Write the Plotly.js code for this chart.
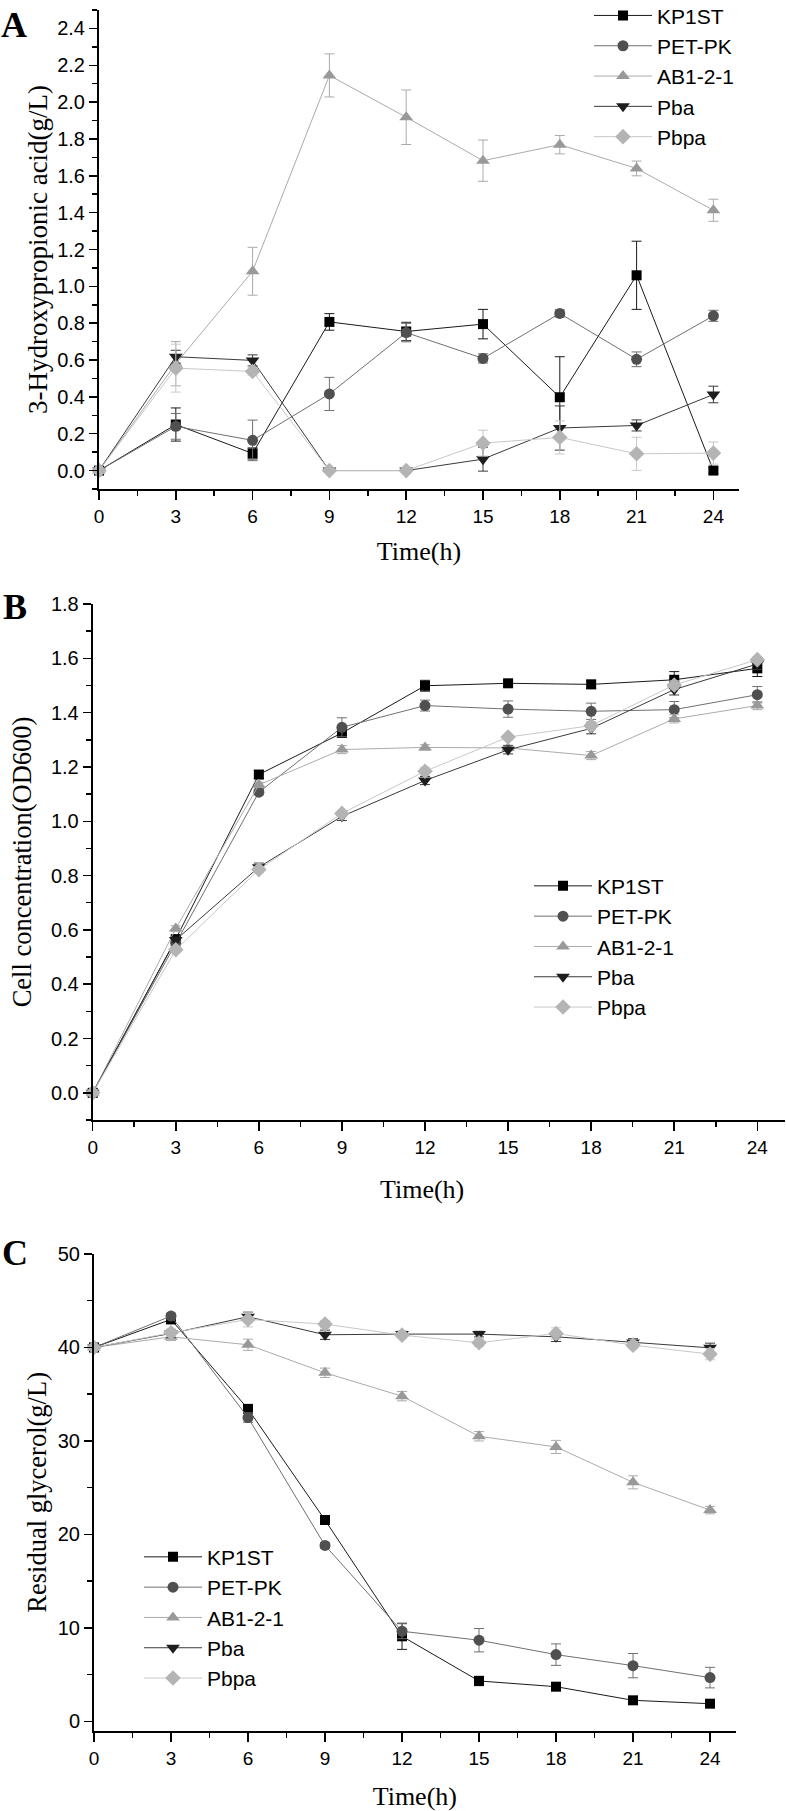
<!DOCTYPE html>
<html>
<head>
<meta charset="utf-8">
<script src="https://cdn.plot.ly/plotly-3.0.1.min.js"></script>
<style>
  html, body { margin: 0; padding: 0; background: #fff; }
  #chart { width: 786px; height: 1811px; }
</style>
</head>
<body>
<div id="chart"></div>
<script>
// ---------------- data ----------------
const TIME = [0, 3, 6, 9, 12, 15, 18, 21, 24];
const SERIES = ['KP1ST', 'PET-PK', 'AB1-2-1', 'Pba', 'Pbpa'];
const X_TICKS = [0, 3, 6, 9, 12, 15, 18, 21, 24];

// Panel A: 3-Hydroxypropionic acid (g/L)
const HPA_KP1ST     = [0, 0.25, 0.093, 0.807, 0.755, 0.795, 0.398, 1.06, 0.0];
const HPA_KP1ST_ERR = [0, 0.09, 0.03, 0.045, 0.05, 0.08, 0.22, 0.185, 0.015];
const HPA_PETPK     = [0, 0.24, 0.164, 0.416, 0.749, 0.609, 0.853, 0.604, 0.84];
const HPA_PETPK_ERR = [0, 0.07, 0.11, 0.09, 0.05, 0.025, 0.02, 0.04, 0.03];
const HPA_AB        = [0, 0.58, 1.082, 2.145, 1.918, 1.682, 1.769, 1.64, 1.413];
const HPA_AB_ERR    = [0, 0.12, 0.13, 0.117, 0.148, 0.112, 0.05, 0.04, 0.06];
const HPA_PBA       = [0, 0.618, 0.598, 0, 0, 0.062, 0.231, 0.245, 0.413];
const HPA_PBA_ERR   = [0, 0.035, 0.03, 0, 0, 0.065, 0.12, 0.03, 0.045];
const HPA_PBPA      = [0, 0.556, 0.538, 0, 0, 0.149, 0.18, 0.091, 0.095];
const HPA_PBPA_ERR  = [0, 0.13, 0.02, 0, 0, 0.07, 0.09, 0.09, 0.06];

// Panel B: Cell concentration (OD600)
const OD_KP1ST     = [0, 0.566, 1.172, 1.325, 1.499, 1.508, 1.504, 1.521, 1.563];
const OD_KP1ST_ERR = [0.01, 0.01, 0.015, 0.015, 0.02, 0.01, 0.015, 0.03, 0.03];
const OD_PETPK     = [0, 0.55, 1.107, 1.346, 1.426, 1.413, 1.405, 1.411, 1.466];
const OD_PETPK_ERR = [0.01, 0.01, 0.01, 0.035, 0.02, 0.03, 0.03, 0.03, 0.03];
const OD_AB        = [0, 0.605, 1.134, 1.264, 1.272, 1.27, 1.242, 1.377, 1.426];
const OD_AB_ERR    = [0.01, 0.01, 0.01, 0.015, 0.01, 0.01, 0.015, 0.015, 0.015];
const OD_PBA       = [0, 0.563, 0.831, 1.018, 1.15, 1.263, 1.342, 1.485, 1.579];
const OD_PBA_ERR   = [0.01, 0.01, 0.015, 0.015, 0.015, 0.015, 0.02, 0.02, 0.02];
const OD_PBPA      = [0, 0.527, 0.822, 1.029, 1.184, 1.31, 1.352, 1.502, 1.595];
const OD_PBPA_ERR  = [0.01, 0.01, 0.01, 0.01, 0.015, 0.01, 0.015, 0.015, 0.01];

// Panel C: Residual glycerol (g/L)
const GLY_KP1ST     = [40, 43.0, 33.43, 21.54, 9.1, 4.32, 3.71, 2.25, 1.89];
const GLY_KP1ST_ERR = [0.2, 0.3, 0.4, 0.3, 1.4, 0.5, 0.3, 0.3, 0.3];
const GLY_PETPK     = [40, 43.36, 32.5, 18.82, 9.64, 8.68, 7.14, 5.96, 4.68];
const GLY_PETPK_ERR = [0.2, 0.3, 0.5, 0.3, 0.8, 1.25, 1.15, 1.3, 1.1];
const GLY_AB        = [40, 41.14, 40.29, 37.29, 34.79, 30.5, 29.36, 25.57, 22.6];
const GLY_AB_ERR    = [0.2, 0.4, 0.6, 0.5, 0.5, 0.5, 0.7, 0.7, 0.4];
const GLY_PBA       = [40, 41.5, 43.29, 41.36, 41.43, 41.43, 41.14, 40.54, 39.96];
const GLY_PBA_ERR   = [0.2, 0.4, 0.5, 0.5, 0.3, 0.3, 0.5, 0.4, 0.5];
const GLY_PBPA      = [40, 41.57, 43.0, 42.5, 41.32, 40.5, 41.5, 40.25, 39.29];
const GLY_PBPA_ERR  = [0.2, 0.4, 0.8, 0.4, 0.3, 0.4, 0.6, 0.4, 0.6];

// ---------------- styles ----------------
const STYLE = {
  'KP1ST':   {symbol: 'square',        size: 10, mcolor: '#000000', lcolor: '#1a1a1a'},
  'PET-PK':  {symbol: 'circle',        size: 11, mcolor: '#505050', lcolor: '#707070'},
  'AB1-2-1': {symbol: 'triangle-up',   size: 12, mcolor: '#999999', lcolor: '#ababab'},
  'Pba':     {symbol: 'triangle-down', size: 12, mcolor: '#1e1e1e', lcolor: '#3a3a3a'},
  'Pbpa':    {symbol: 'diamond',       size: 12, mcolor: '#b4b4b4', lcolor: '#c8c8c8'}
};

const PANELS = [
  {ax: '',  leg: 'legend',  vals: [HPA_KP1ST, HPA_PETPK, HPA_AB, HPA_PBA, HPA_PBPA],
   errs: [HPA_KP1ST_ERR, HPA_PETPK_ERR, HPA_AB_ERR, HPA_PBA_ERR, HPA_PBPA_ERR]},
  {ax: '2', leg: 'legend2', vals: [OD_KP1ST, OD_PETPK, OD_AB, OD_PBA, OD_PBPA],
   errs: [OD_KP1ST_ERR, OD_PETPK_ERR, OD_AB_ERR, OD_PBA_ERR, OD_PBPA_ERR]},
  {ax: '3', leg: 'legend3', vals: [GLY_KP1ST, GLY_PETPK, GLY_AB, GLY_PBA, GLY_PBPA],
   errs: [GLY_KP1ST_ERR, GLY_PETPK_ERR, GLY_AB_ERR, GLY_PBA_ERR, GLY_PBPA_ERR]}
];

const traces = [];
PANELS.forEach(p => {
  SERIES.forEach((name, i) => {
    const s = STYLE[name];
    traces.push({
      type: 'scatter', mode: 'lines+markers', name: name,
      x: TIME, y: p.vals[i],
      xaxis: 'x' + p.ax, yaxis: 'y' + p.ax, legend: p.leg,
      line: {color: s.lcolor, width: 1},
      marker: {symbol: s.symbol, size: s.size, color: s.mcolor, line: {width: 0}},
      error_y: {type: 'data', array: p.errs[i], visible: true, color: s.lcolor, thickness: 1, width: 5},
      cliponaxis: false
    });
  });
});

const W = 786, H = 1811;
const px = v => v / W;
const py = v => 1 - v / H;

const SANS = 'Liberation Sans, Arial, Helvetica, sans-serif';
const SERIF = 'Liberation Serif, Times New Roman, serif';

function xAxis(left, right, anchor, title, standoff) {
  return {
    domain: [px(left), px(right)], anchor: anchor,
    range: [0, 25], tickvals: X_TICKS, ticktext: X_TICKS.map(String),
    ticks: 'outside', ticklen: 9, tickwidth: 1.5, tickcolor: '#000',
    minor: {dtick: 1.5, tick0: 0, ticks: 'outside', ticklen: 5, tickwidth: 1.5, tickcolor: '#000', showgrid: false},
    showline: true, linewidth: 2, linecolor: '#000', showgrid: false, zeroline: false,
    tickfont: {family: SANS, size: 19, color: '#000'},
    title: {text: title, font: {family: SERIF, size: 26, color: '#000'}, standoff: standoff},
    automargin: false, fixedrange: true
  };
}
function yAxis(top, bottom, anchor, range, dtick, minor, fmt, title, tsize, standoff) {
  return {
    domain: [py(bottom), py(top)], anchor: anchor,
    range: range, dtick: dtick, tick0: 0, tickformat: fmt,
    ticks: 'outside', ticklen: 8, tickwidth: 1.5, tickcolor: '#000',
    minor: {dtick: minor, tick0: 0, ticks: 'outside', ticklen: 5, tickwidth: 1.5, tickcolor: '#000', showgrid: false},
    showline: true, linewidth: 2, linecolor: '#000', showgrid: false, zeroline: false,
    tickfont: {family: SANS, size: 20, color: '#000'},
    title: {text: title, font: {family: SERIF, size: tsize, color: '#000'}, standoff: standoff},
    automargin: false, fixedrange: true
  };
}
function legendAt(lineStart, topY, fsize) {
  return {
    x: px(lineStart - 5), y: py(topY), xanchor: 'left', yanchor: 'top',
    bgcolor: 'rgba(0,0,0,0)', borderwidth: 0,
    font: {family: SANS, size: fsize, color: '#000'},
    tracegroupgap: 0, itemwidth: 58, itemclick: false, itemdoubleclick: false
  };
}

const layout = {
  width: W, height: H,
  margin: {l: 0, r: 0, t: 0, b: 0, autoexpand: false},
  paper_bgcolor: '#fff', plot_bgcolor: '#fff',
  showlegend: true,
  xaxis:  xAxis(99, 739, 'y', 'Time(h)', 16),
  yaxis:  yAxis(10, 489, 'x', [-0.1, 2.5], 0.2, 0.1, '.1f', '3-Hydroxypropionic acid(g/L)', 27, 2),
  xaxis2: xAxis(92.7, 785, 'y2', '', 16),
  yaxis2: yAxis(604, 1120, 'x2', [-0.1, 1.8], 0.2, 0.1, '.1f', 'Cell concentration(OD600)', 26.5, 12),
  xaxis3: xAxis(94, 735.7, 'y3', 'Time(h)', 19),
  yaxis3: yAxis(1254, 1730.7, 'x3', [-1, 50], 10, 5, 'd', 'Residual glycerol(g/L)', 26.5, 3),
  legend:  legendAt(594, -4.7, 21),
  legend2: legendAt(534, 865.7, 21),
  legend3: legendAt(144, 1536.7, 21),
  annotations: [
    {text: '<b>A</b>', x: px(14), y: py(25), xref: 'paper', yref: 'paper', showarrow: false,
     xanchor: 'center', yanchor: 'middle', font: {family: SERIF, size: 36, color: '#000'}},
    {text: '<b>B</b>', x: px(15), y: py(607), xref: 'paper', yref: 'paper', showarrow: false,
     xanchor: 'center', yanchor: 'middle', font: {family: SERIF, size: 36, color: '#000'}},
    {text: '<b>C</b>', x: px(15), y: py(1253), xref: 'paper', yref: 'paper', showarrow: false,
     xanchor: 'center', yanchor: 'middle', font: {family: SERIF, size: 36, color: '#000'}},
    {text: 'Time(h)', x: px(422), y: py(1173), xref: 'paper', yref: 'paper', showarrow: false,
     xanchor: 'center', yanchor: 'top', font: {family: SERIF, size: 26, color: '#000'}}
  ]
};

Plotly.newPlot('chart', traces, layout, {displayModeBar: false, staticPlot: true});
</script>
</body>
</html>
